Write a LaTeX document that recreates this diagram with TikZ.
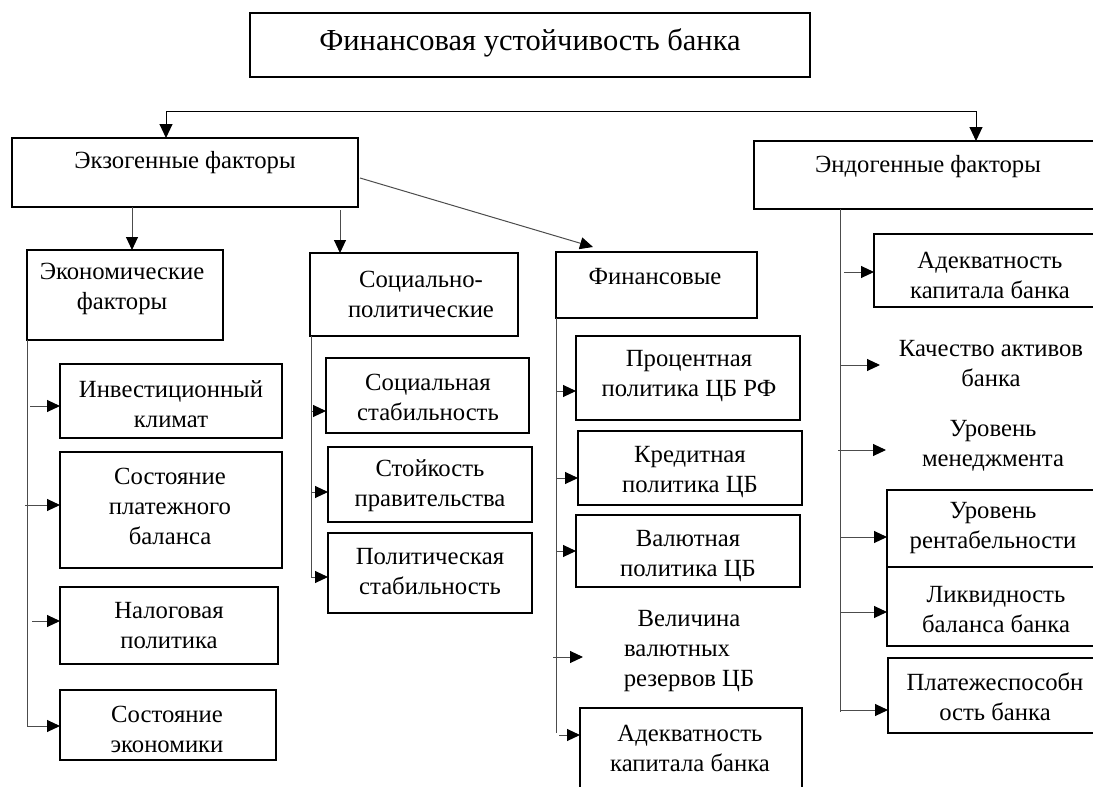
\documentclass[tikz,border=0pt]{standalone}
\usepackage{fontspec}
\setmainfont{Liberation Serif}
\usetikzlibrary{arrows.meta}
\newcommand\bx[5]{\node[box, anchor=north west, minimum width={#4-#2}, minimum height={#5-#3}] (#1) at (#2,#3) {};}
\begin{document}
\begin{tikzpicture}[x=1pt,y=-1pt,
  box/.style={draw=black, line width=1.8pt, inner sep=0pt, outer sep=0pt},
  txt/.style={align=center, inner sep=0pt, font=\fontsize{24.7}{30}\selectfont},
  conn/.style={draw=black!70, line width=1pt, -{Triangle[length=13pt,width=12pt,color=black]}},
  vline/.style={draw=black!70, line width=1pt},
  topconn/.style={draw=black, line width=1pt, -{Triangle[length=14pt,width=13pt,color=black]}}]
\clip (0,0) rectangle (1093,787);
\fill[white] (0,0) rectangle (1093,787);
% title
\bx{title}{250}{13}{810}{77}
\node[txt, font=\fontsize{30.5}{34}\selectfont] (ttitle) at (530,43) {Финансовая устойчивость банка};
% top level
\bx{exo}{12}{138}{358}{207}
\node[txt] (texo) at (185,163) {Экзогенные факторы};
\bx{endo}{754}{141}{1100}{209}
\node[txt] (tendo) at (928,167) {Эндогенные факторы};
\coordinate (hl) at (166,111);
\coordinate (hr) at (976,111);
\draw[draw=black, line width=1pt] (hl) -- (hr);
\draw[topconn] (hl) -- (exo.north -| hl);
\draw[topconn] (hr) -- (endo.north -| hr);
% second level
\bx{econ}{27}{250}{223}{340}
\node[txt] (tecon) at (122,289) {Экономические\\факторы};
\bx{soc}{310}{253}{518}{336}
\node[txt] (tsoc) at (421,294) {Социально-\\политические};
\bx{fin}{556}{252}{757}{318}
\node[txt] (tfin) at (655,277) {Финансовые};
\coordinate (e1) at (132,207);
\coordinate (e2) at (340,210);
\coordinate (e3) at (360,178);
\coordinate (e3e) at (593,247);
\draw[conn] (e1) -- (econ.north -| e1);
\draw[conn] (e2) -- (soc.north -| e2);
\draw[conn] (e3) -- (e3e);
% economic column
\coordinate (ev) at (27,340);
\draw[vline] (ev) -- (27,726);
\bx{inv}{60}{364}{282}{438}
\node[txt] (tinv) at (171,404) {Инвестиционный\\климат};
\bx{pay}{60}{452}{282}{568}
\node[txt] (tpay) at (170,506) {Состояние\\платежного\\баланса};
\bx{tax}{60}{587}{278}{664}
\node[txt] (ttax) at (169,626) {Налоговая\\политика};
\bx{eco}{60}{690}{276}{760}
\node[txt] (teco) at (167,729) {Состояние\\экономики};
\coordinate (a1) at (30,406);
\coordinate (a2) at (25,505);
\coordinate (a3) at (32,621);
\coordinate (a4) at (27,726);
\draw[conn] (a1) -- (a1 -| inv.west);
\draw[conn] (a2) -- (a2 -| pay.west);
\draw[conn] (a3) -- (a3 -| tax.west);
\draw[conn] (a4) -- (a4 -| eco.west);
% social column
\coordinate (sv) at (311,336);
\draw[vline] (sv) -- (311,577);
\bx{sst}{326}{358}{529}{433}
\node[txt] (tsst) at (428,397) {Социальная\\стабильность};
\bx{gov}{328}{447}{532}{522}
\node[txt] (tgov) at (430,486) {Стойкость\\правительства};
\bx{pst}{328}{533}{532}{613}
\node[txt] (tpst) at (430,572) {Политическая\\стабильность};
\coordinate (b1) at (312,411);
\coordinate (b2) at (312,492);
\coordinate (b3) at (311,577);
\draw[conn] (b1) -- (b1 -| sst.west);
\draw[conn] (b2) -- (b2 -| gov.west);
\draw[conn] (b3) -- (b3 -| pst.west);
% financial column
\coordinate (fv) at (556,318);
\draw[vline] (fv) -- (556,733);
\bx{pct}{576}{336}{800}{420}
\node[txt] (tpct) at (689,376) {Процентная\\политика ЦБ РФ};
\bx{cred}{578}{431}{802}{505}
\node[txt] (tcred) at (690,472) {Кредитная\\политика ЦБ};
\bx{cur}{576}{515}{800}{587}
\node[txt] (tcur) at (688,556) {Валютная\\политика ЦБ};
\node[txt] (tres) at (689,651) {Величина\\валютных\rule{24pt}{0pt}\\резервов ЦБ};
\bx{cap}{580}{708}{802}{800}
\node[txt] (tcap) at (690,748) {Адекватность\\капитала банка};
\coordinate (c1) at (556,391);
\coordinate (c2) at (556,478);
\coordinate (c3) at (556,551);
\coordinate (c4) at (553,657);
\coordinate (c4e) at (583,657);
\coordinate (c5) at (559,735);
\draw[conn] (c1) -- (c1 -| pct.west);
\draw[conn] (c2) -- (c2 -| cred.west);
\draw[conn] (c3) -- (c3 -| cur.west);
\draw[conn] (c4) -- (c4e);
\draw[conn] (c5) -- (c5 -| cap.west);
% endogenous column
\coordinate (nv) at (840,209);
\draw[vline] (nv) -- (840,712);
\bx{adq}{874}{234}{1100}{307}
\node[txt] (tadq) at (990,275) {Адекватность\\капитала банка};
\node[txt] (tqual) at (991,364) {Качество активов\\банка};
\node[txt] (tman) at (993,446) {Уровень\\менеджмента};
\bx{prof}{887}{490}{1100}{567}
\node[txt] (tprof) at (993,528) {Уровень\\рентабельности};
\bx{liq}{887}{567}{1100}{646}
\node[txt] (tliq) at (996,610) {Ликвидность\\баланса банка};
\bx{solv}{888}{658}{1100}{733}
\node[txt] (tsolv) at (995,697) {Платежеспособн\\ость банка};
\coordinate (d1) at (844,272);
\coordinate (d2) at (840,365);
\coordinate (d2e) at (880,365);
\coordinate (d3) at (838,450);
\coordinate (d3e) at (886,450);
\coordinate (d4) at (840,537);
\coordinate (d5) at (840,612);
\coordinate (d6) at (840,710);
\draw[conn] (d1) -- (d1 -| adq.west);
\draw[conn] (d2) -- (d2e);
\draw[conn] (d3) -- (d3e);
\draw[conn] (d4) -- (d4 -| prof.west);
\draw[conn] (d5) -- (d5 -| liq.west);
\draw[conn] (d6) -- (d6 -| solv.west);
\end{tikzpicture}
\end{document}
